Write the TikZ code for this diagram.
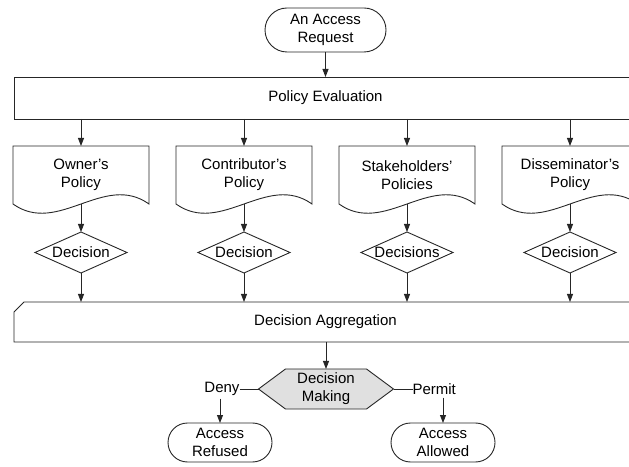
\documentclass[tikz,border=0pt]{standalone}
\usepackage{fontspec}
\setmainfont{Liberation Sans}
\usetikzlibrary{positioning,arrows.meta,shapes.geometric,shapes.misc,backgrounds}
\tikzset{
  base/.style={line width=0.9pt, draw=black!85},
  txt/.style={font=\fontsize{15}{18}\selectfont, align=center, inner sep=0pt, outer sep=0pt},
  term/.style={txt, base, rounded rectangle, minimum width=104pt, minimum height=39pt},
  wide/.style={txt, base, rectangle, minimum width=623pt, minimum height=42pt},
  doc/.style={txt, minimum width=136pt, minimum height=58pt},
  dec/.style={txt, base, diamond, minimum width=92pt, minimum height=41pt},
  hex/.style={txt, minimum width=135pt, minimum height=40pt},
  arr/.style={base, -{Triangle[length=8pt, width=6pt]}},
  lnk/.style={base},
}
\begin{document}
\begin{tikzpicture}[x=1pt, y=1pt]
  \useasboundingbox (0,0) rectangle (629,466);
  \clip (0,0) rectangle (629,466);
  \node[term, minimum width=121pt, minimum height=44pt] (req) at (325.5,436) {An Access\\Request};
  \node[wide] (eval) at (325.5,368) {Policy Evaluation};
  \node[doc] (own) at (81,291) {Owner's\\Policy};
  \node[doc, right=27pt of own] (con) {Contributor's\\Policy};
  \node[doc, right=27pt of con] (stk) {Stakeholders'\\Policies};
  \node[doc, right=27pt of stk] (dis) {Disseminator's\\Policy};
  \node[dec, below=28pt of own] (d1) {\makebox[0pt]{Decision}};
  \node[dec, below=28pt of con] (d2) {\makebox[0pt]{Decision}};
  \node[dec, below=28pt of stk] (d3) {\makebox[0pt]{Decisions}};
  \node[dec, below=28pt of dis] (d4) {\makebox[0pt]{Decision}};
  \node[txt, minimum width=623pt, minimum height=40pt] (agg) at (325.5,144) {Decision Aggregation};
  \node[hex] (dm) at (326,77) {Decision\\Making};
  \node[txt, left=19pt of dm] (deny) {Deny};
  \node[txt, right=19pt of dm] (perm) {Permit};
  \node[term] (ref) at (220,23.5) {Access\\Refused};
  \node[term] (alw) at (443,23.5) {Access\\Allowed};

  \foreach \n in {own,con,stk,dis}
    \draw[base] (\n.north west) -- (\n.north east) -- (\n.south east)
      .. controls +(-45,32) and +(45,-32) .. (\n.south west) -- cycle;
  \draw[base] ([yshift=-10pt]agg.north west) -- ([xshift=10pt]agg.north west)
    -- (agg.north east) -- (agg.south east) -- (agg.south west) -- cycle;
  \begin{scope}[on background layer]
    \draw[base, fill=black!12] (dm.west) -- ([xshift=27pt]dm.north west)
      -- ([xshift=-27pt]dm.north east) -- (dm.east)
      -- ([xshift=-27pt]dm.south east) -- ([xshift=27pt]dm.south west) -- cycle;
  \end{scope}

  \draw[arr] (req) -- (eval);
  \foreach \n/\d in {own/d1,con/d2,stk/d3,dis/d4} {
    \draw[arr] (eval.south -| \n.north) -- (\n.north);
    \draw[arr] (\n.south) -- (\d.north);
    \draw[arr] (\d.south) -- (agg.north -| \d.south);
  }
  \draw[arr] (agg.south -| dm.north) -- (dm.north);
  \draw[lnk] (deny) -- (dm);
  \draw[lnk] (dm) -- (perm);
  \draw[arr] ([yshift=-3pt]deny.south -| ref.north) -- (ref.north);
  \draw[arr] ([yshift=-3pt]perm.south -| alw.north) -- (alw.north);
\end{tikzpicture}
\end{document}
